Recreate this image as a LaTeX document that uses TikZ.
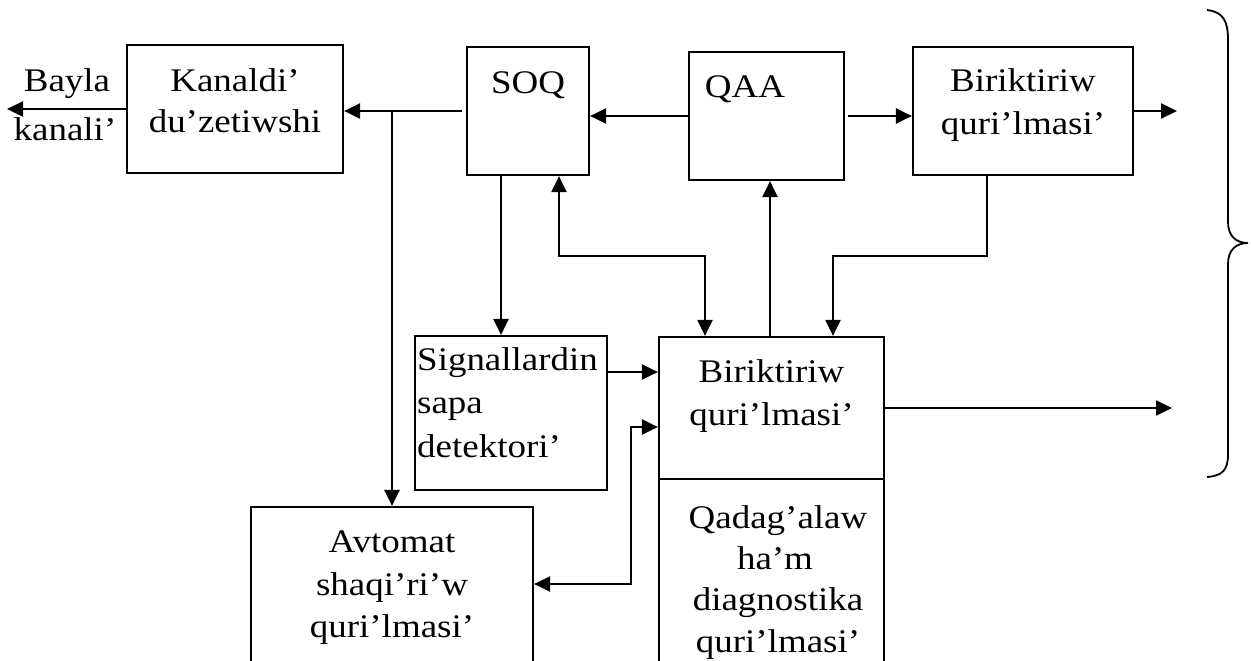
\documentclass[tikz,border=0pt]{standalone}
\usepackage{fontspec}
\setmainfont{Liberation Serif}[FakeStretch=1.12]
\usetikzlibrary{arrows.meta}
\begin{document}
\begin{tikzpicture}[x=1pt,y=-1pt,
  box/.style={draw, line width=2.2pt, rectangle, inner sep=0pt},
  txt/.style={inner sep=0pt, anchor=base, font=\fontsize{33}{42}\selectfont},
  conn/.style={line width=2.2pt, -{Triangle[length=16pt,width=15pt]}},
  conn2/.style={line width=2.2pt, {Triangle[length=16pt,width=15pt]}-{Triangle[length=16pt,width=15pt]}},
  brace/.style={line width=1.8pt}
]
\useasboundingbox (0,0) rectangle (1251,661);
% boxes
\node[box, minimum width=216pt, minimum height=128pt] (kan) at (235,109) {};
\node[box, minimum width=122pt, minimum height=128pt] (soq) at (528,111) {};
\node[box, minimum width=155pt, minimum height=128pt] (qaa) at (766.5,116) {};
\node[box, minimum width=220pt, minimum height=128pt] (bir1) at (1023,111) {};
\node[box, minimum width=192pt, minimum height=154pt] (sig) at (511,413) {};
\node[box, minimum width=225pt, minimum height=142pt] (bir2) at (771.5,408) {};
\node[box, minimum width=225pt, minimum height=221pt] (qad) at (771.5,589.5) {};
\node[box, minimum width=282pt, minimum height=193pt] (avt) at (392,603.5) {};
% texts
\node[txt] (bay1) at (67,92) {Bayla};
\node[txt] (bay2) at (65,140) {kanali’};
\node[txt] (kant1) at (235,92) {Kanaldi’};
\node[txt] (kant2) at (235,132) {du’zetiwshi};
\node[txt] (soqt) at (528,93) {SOQ};
\node[txt] (qaat) at (745,98) {QAA};
\node[txt] (b1t1) at (1023,92) {Biriktiriw};
\node[txt] (b1t2) at (1023,135) {quri’lmasi’};
\node[txt, anchor=base west] (sigt1) at (417,370) {Signallardin};
\node[txt, anchor=base west] (sigt2) at (417,413) {sapa};
\node[txt, anchor=base west] (sigt3) at (417,457) {detektori’};
\node[txt] (b2t1) at (771.5,382) {Biriktiriw};
\node[txt] (b2t2) at (771.5,425) {quri’lmasi’};
\node[txt] (qt1) at (778,528) {Qadag’alaw};
\node[txt] (qt2) at (775,569) {ha’m};
\node[txt] (qt3) at (778,610) {diagnostika};
\node[txt] (qt4) at (778,652) {quri’lmasi’};
\node[txt] (avt1) at (392,552) {Avtomat};
\node[txt] (avt2) at (392,595) {shaqi’ri’w};
\node[txt] (avt3) at (392,637) {quri’lmasi’};
% coordinates
\coordinate (bayend) at (7,107);
\coordinate (out1) at (1177,111);
\coordinate (out2) at (1172,408);
\coordinate (k1) at (705,256);
\coordinate (k2) at (833,256);
\coordinate (k3) at (631,584);
\coordinate (k4) at (631,427);
% connectors
\draw[conn] (kan.west) -- (kan.west -| bayend);
\draw[conn, shorten <=4pt] (soq.west) -- (soq.west -| kan.east);
\draw[conn] (soq.west -| avt.north) -- (avt.north);
\draw[conn] (qaa.west) -- (qaa.west -| soq.east);
\draw[conn, shorten <=3pt] (qaa.east) -- (qaa.east -| bir1.west);
\draw[conn] (bir1.east) -- (out1);
\draw[conn] ([xshift=-27pt]soq.south) -- ([xshift=-27pt]soq.south |- sig.north);
\draw[conn2] ([xshift=31pt]soq.south) |- (k1) -- (k1 |- bir2.north);
\draw[conn] ([xshift=-1.5pt]bir2.north) -- ([xshift=-1.5pt]bir2.north |- qaa.south);
\draw[conn] ([xshift=-36pt]bir1.south) |- (k2) -- (k2 |- bir2.north);
\draw[conn] ([yshift=41pt]sig.east) -- ([yshift=41pt]sig.east -| bir2.west);
\draw[conn2] (k3 -| avt.east) -- (k3) -- (k4) -- (k4 -| bir2.west);
\draw[conn] (bir2.east) -- (out2);
% brace
\draw[brace] (1207,10) .. controls (1224,12) and (1228,22) .. (1228,40) -- (1228,222)
  .. controls (1228,236) and (1236,243) .. (1248,243)
  .. controls (1236,243) and (1228,250) .. (1228,264) -- (1228,455)
  .. controls (1228,470) and (1222,476) .. (1207,477);
\end{tikzpicture}
\end{document}
